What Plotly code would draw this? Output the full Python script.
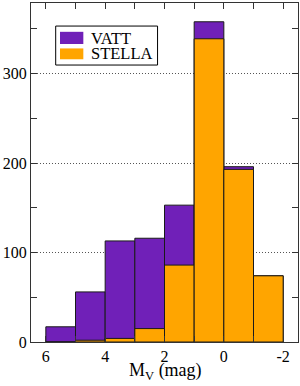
import plotly.graph_objects as go

bin_centers = [5.5, 4.5, 3.5, 2.5, 1.5, 0.5, -0.5, -1.5]
vatt = [17, 56, 113, 116, 153, 358, 196, 74]
stella = [0, 2, 4, 15, 86, 339, 193, 74]
series_names = ["VATT", "STELLA"]
x_title = "M<sub>V</sub> (mag)"
x_tickvals = [6, 4, 2, 0, -2]
x_ticktext = ["6", "4", "2", "0", "-2"]
y_tickvals = [0, 100, 200, 300]
y_ticktext = ["0", "100", "200", "300"]

PURPLE = "#7020B8"
ORANGE = "#FFA500"
FONT = "Liberation Serif"
EDGE = "#1a1a1a"

fig = go.Figure()
fig.add_trace(go.Bar(x=bin_centers, y=vatt, width=1, name=series_names[0], showlegend=False,
                     marker=dict(color=PURPLE, line=dict(color=EDGE, width=1))))
fig.add_trace(go.Bar(x=bin_centers, y=stella, width=1, name=series_names[1], showlegend=False,
                     marker=dict(color=ORANGE, line=dict(color=EDGE, width=1))))

# manual legend (paper coordinates)
shapes = [
    dict(type="rect", xref="paper", yref="paper", x0=0.0925, x1=0.474, y0=0.817, y1=0.932,
         line=dict(color="black", width=1), fillcolor="white", layer="above"),
    dict(type="rect", xref="paper", yref="paper", x0=0.1086, x1=0.196, y0=0.879, y1=0.915,
         line=dict(width=0), fillcolor=PURPLE, layer="above"),
    dict(type="rect", xref="paper", yref="paper", x0=0.1086, x1=0.196, y0=0.834, y1=0.866,
         line=dict(width=0), fillcolor=ORANGE, layer="above"),
]
annotations = [
    dict(xref="paper", yref="paper", x=0.216, y=0.896, text=series_names[0], showarrow=False,
         xanchor="left", yanchor="middle", font=dict(family=FONT, size=16.5, color="black")),
    dict(xref="paper", yref="paper", x=0.216, y=0.850, text=series_names[1], showarrow=False,
         xanchor="left", yanchor="middle", font=dict(family=FONT, size=16.5, color="black")),
    dict(xref="paper", yref="paper", x=0.504, y=-0.088, text=x_title, showarrow=False,
         xanchor="center", yanchor="middle", font=dict(family=FONT, size=18, color="black")),
]

fig.update_layout(
    width=300, height=386,
    margin=dict(l=31, r=2, t=3, b=44),
    barmode="overlay",
    plot_bgcolor="white", paper_bgcolor="white",
    font=dict(family=FONT, size=16, color="black"),
    showlegend=False,
    shapes=shapes,
    annotations=annotations,
    xaxis=dict(range=[6.5, -2.5], tickvals=x_tickvals, ticktext=x_ticktext,
               automargin=False,
               tickfont=dict(family=FONT, size=16),
               ticks="inside", ticklen=6, tickcolor="#333",
               showline=True, linecolor="#333", linewidth=1, mirror="allticks",
               showgrid=False, zeroline=False,
               minor=dict(ticks="inside", dtick=1, ticklen=6, tickcolor="#333")),
    yaxis=dict(range=[0, 379], tickvals=y_tickvals, ticktext=y_ticktext,
               automargin=False,
               tickfont=dict(family=FONT, size=16),
               ticks="inside", ticklen=6, tickcolor="#333",
               showline=True, linecolor="#333", linewidth=1, mirror="allticks",
               showgrid=True, gridcolor="#555", griddash="1px,2px", gridwidth=1,
               zeroline=False,
               minor=dict(ticks="inside", dtick=50, tick0=0, ticklen=6, tickcolor="#333", showgrid=False)),
)

fig.write_html("out.html", config={"displayModeBar": False},
               post_script="document.body.style.margin='0';document.body.style.padding='0';document.body.style.overflow='hidden';")
